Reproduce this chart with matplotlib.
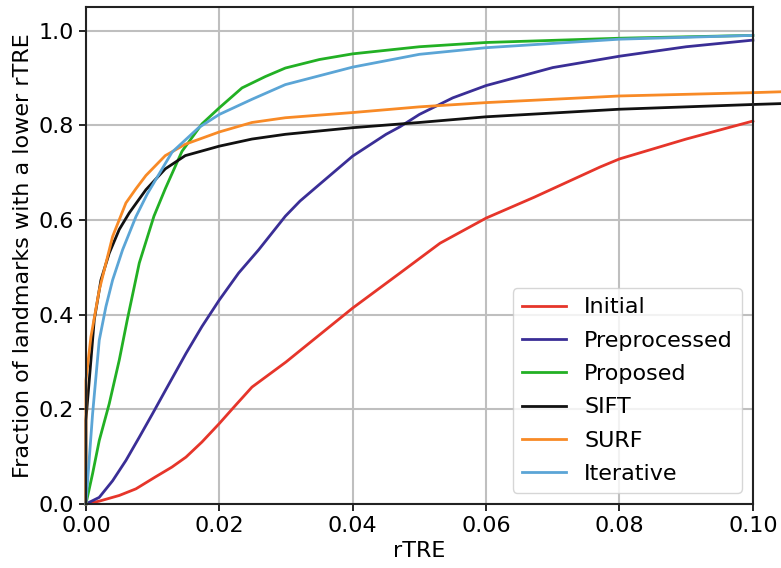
import matplotlib
matplotlib.use('Agg')
from matplotlib import pyplot as plt

# curves (rTRE, fraction)
x_initial = [0, 0.002, 0.005, 0.0075, 0.0104, 0.0129, 0.015, 0.0174, 0.02, 0.0224, 0.0249,
             0.03, 0.0321, 0.04, 0.0471, 0.0531, 0.06, 0.0672, 0.0771, 0.08, 0.09, 0.1]
y_initial = [0, 0.006, 0.018, 0.032, 0.057, 0.078, 0.099, 0.131, 0.17, 0.208, 0.247,
             0.30, 0.324, 0.414, 0.488, 0.551, 0.604, 0.648, 0.712, 0.729, 0.771, 0.809]

x_pre = [0, 0.002, 0.004, 0.006, 0.008, 0.01, 0.012, 0.015, 0.0174, 0.02, 0.0229, 0.0259,
         0.0299, 0.0321, 0.035, 0.04, 0.045, 0.0471, 0.05, 0.055, 0.06, 0.07, 0.08, 0.09, 0.1]
y_pre = [0, 0.014, 0.049, 0.092, 0.141, 0.191, 0.242, 0.318, 0.375, 0.431, 0.488, 0.537,
         0.608, 0.640, 0.675, 0.735, 0.781, 0.797, 0.823, 0.858, 0.884, 0.922, 0.946, 0.966, 0.98]

x_prop = [0, 0.001, 0.002, 0.0035, 0.005, 0.0062, 0.008, 0.0102, 0.0119, 0.0144, 0.0174,
          0.02, 0.0234, 0.0269, 0.0299, 0.035, 0.04, 0.05, 0.06, 0.08, 0.1]
y_prop = [0, 0.064, 0.134, 0.212, 0.304, 0.389, 0.509, 0.608, 0.666, 0.745, 0.803,
          0.837, 0.879, 0.903, 0.921, 0.939, 0.951, 0.966, 0.975, 0.984, 0.99]

x_sift = [0, 0, 0.0005, 0.00125, 0.00225, 0.0035, 0.005, 0.0065, 0.009, 0.0119, 0.0149,
          0.02, 0.0249, 0.0299, 0.04, 0.05, 0.06, 0.08, 0.1, 0.1045]
y_sift = [0, 0.177, 0.261, 0.389, 0.473, 0.53, 0.58, 0.615, 0.664, 0.708, 0.736,
          0.756, 0.771, 0.781, 0.795, 0.806, 0.818, 0.834, 0.844, 0.846]

x_surf = [0, 0, 0.00075, 0.002, 0.004, 0.006, 0.0075, 0.009, 0.0119, 0.0149, 0.02, 0.0249,
          0.0299, 0.04, 0.05, 0.06, 0.08, 0.1, 0.1045]
y_surf = [0, 0.261, 0.353, 0.452, 0.565, 0.636, 0.666, 0.694, 0.736, 0.76, 0.786, 0.806,
          0.816, 0.827, 0.839, 0.848, 0.862, 0.869, 0.871]

x_iter = [0, 0.001, 0.002, 0.003, 0.004, 0.0055, 0.0075, 0.0092, 0.0129, 0.0169, 0.02,
          0.0249, 0.0299, 0.04, 0.05, 0.06, 0.08, 0.1]
y_iter = [0, 0.19, 0.346, 0.417, 0.473, 0.537, 0.607, 0.655, 0.743, 0.795, 0.823,
          0.855, 0.886, 0.923, 0.95, 0.964, 0.982, 0.99]

names = ['Initial', 'Preprocessed', 'Proposed', 'SIFT', 'SURF', 'Iterative']
colors = ['#e6352a', '#3a2e96', '#22b024', '#111111', '#f88a26', '#5ba5d6']
series = [(x_initial, y_initial), (x_pre, y_pre), (x_prop, y_prop),
          (x_sift, y_sift), (x_surf, y_surf), (x_iter, y_iter)]

plt.rcParams['font.size'] = 16

fig = plt.figure(figsize=(7.81, 5.68), dpi=100)
ax = fig.add_axes([0.110, 0.1127, 0.854, 0.875])

for (xs, ys), name, c in zip(series, names, colors):
    ax.plot(xs, ys, color=c, lw=2, label=name, clip_on=False)

ax.set_xlim(0, 0.1)
ax.set_ylim(0, 1.05)
ax.set_xticks([0, 0.02, 0.04, 0.06, 0.08, 0.1])
ax.set_xticklabels(['0.00', '0.02', '0.04', '0.06', '0.08', '0.10'])
ax.set_yticks([0, 0.2, 0.4, 0.6, 0.8, 1.0])
ax.grid(True, color='#bfbfbf', lw=1.5)
ax.set_axisbelow(True)
for s in ax.spines.values():
    s.set_linewidth(1.5)
    s.set_color('#222222')
ax.tick_params(width=1.2, length=5)

ax.set_xlabel('rTRE')
ax.set_ylabel('Fraction of landmarks with a lower rTRE')
ax.legend(loc='lower right', fontsize=16, borderaxespad=0.5, labelspacing=0.6)

fig.savefig('out.png', dpi=100)
